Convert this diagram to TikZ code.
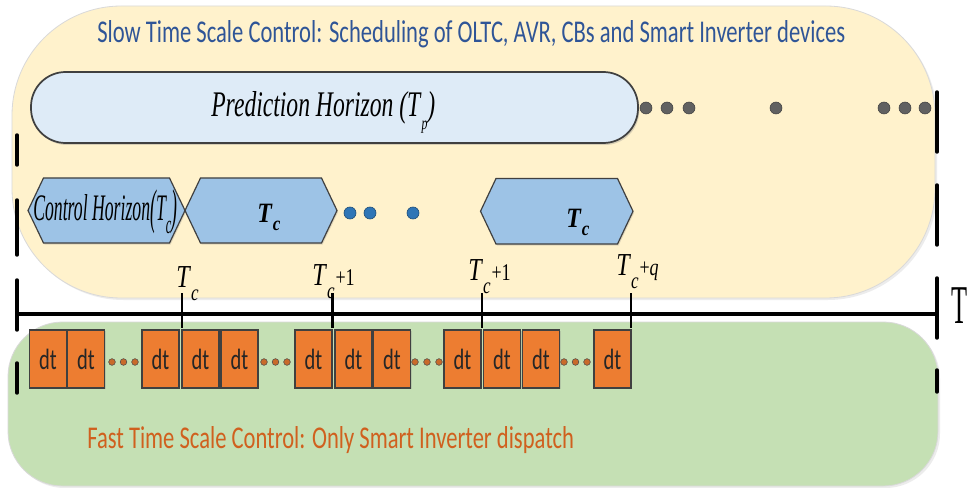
\documentclass[tikz,border=0pt]{standalone}
\usepackage{fontspec}
\setmainfont{Liberation Serif}
\newfontfamily\carl{Carlito}
\usetikzlibrary{shadows}
\definecolor{slowfill}{HTML}{FFF2CC}
\definecolor{fastfill}{HTML}{C5E0B4}
\definecolor{predfill}{HTML}{DEEBF7}
\definecolor{hexfill}{HTML}{9DC3E6}
\definecolor{titleblue}{HTML}{2F5597}
\definecolor{fastorange}{HTML}{D0601E}
\definecolor{dtorange}{HTML}{ED7D31}
\definecolor{edgegray}{HTML}{404040}
\definecolor{dotblue}{HTML}{2E75B6}
\definecolor{dotblueedge}{HTML}{1F4E79}
\newcommand\hexa[5]{%
  \draw[hexbox] (#2,{(#4+#5)/2}) -- ({#2+15.5},#4) -- ({#3-15.5},#4) -- (#3,{(#4+#5)/2}) -- ({#3-15.5},#5) -- ({#2+15.5},#5) -- cycle;
  \coordinate (#1) at ({(#2+#3)/2},{(#4+#5)/2});}
\newcommand\hexT{\scalebox{0.85}[1]{\fontsize{21}{21}\selectfont\bfseries\itshape T\kern0.04em\raisebox{-0.3em}{\fontsize{15}{15}\selectfont c}}}
\newcommand\tickT[1]{\scalebox{0.75}[1]{\fontsize{24}{24}\selectfont\itshape T\kern0.06em\raisebox{-0.42em}{\fontsize{17}{17}\selectfont c}\kern0.04em\fontsize{18}{18}\selectfont\upshape #1}}
\newcommand\dttext{\scalebox{0.7}[1]{\carl\fontsize{22}{22}\selectfont dt}}
\tikzset{
  bigbox/.style={draw=black!15, line width=0.6pt, inner sep=0pt, drop shadow={opacity=0.15, shadow xshift=1.5pt, shadow yshift=-1.5pt}},
  predbox/.style={draw=edgegray, line width=1.3pt, fill=predfill, rounded corners=26pt, inner sep=0pt, drop shadow={opacity=0.3, shadow xshift=1pt, shadow yshift=-1.5pt}},
  hexbox/.style={draw=edgegray, line width=0.9pt, fill=hexfill, drop shadow={opacity=0.25, shadow xshift=0.8pt, shadow yshift=-1.2pt}},
  dtbox/.style={draw=black!75, line width=0.8pt, fill=dtorange, inner sep=0pt, minimum width=27.75pt, minimum height=43.5pt, text=black!85, drop shadow={opacity=0.25, shadow xshift=0.8pt, shadow yshift=-1pt}},
  gdot/.style={circle, fill=black!62, draw=black!75, line width=0.4pt, inner sep=0pt, minimum size=9pt},
  bdot/.style={circle, fill=dotblue, draw=dotblueedge, line width=0.5pt, inner sep=0pt, minimum size=9pt},
  odot/.style={circle, fill=dtorange!85!black, draw=black!70, line width=0.4pt, inner sep=0pt, minimum size=5pt},
  txt/.style={inner sep=0pt, anchor=base west},
  timeline/.style={line width=3.3pt},
  tickline/.style={line width=2.2pt},
  vdash/.style={line width=2.6pt, line cap=round},
}
\begin{document}
\begin{tikzpicture}[x=0.75pt,y=-0.75pt]
\useasboundingbox (0,0) rectangle (969,488);
\fill[white] (0,0) rectangle (969,488);
% background regions
\node[bigbox, fill=slowfill, rounded corners=82pt, minimum width=923*0.75pt, minimum height=292*0.75pt] (slow) at (473.5,152) {};
\node[bigbox, fill=fastfill, rounded corners=41pt, minimum width=930*0.75pt, minimum height=164*0.75pt] (fast) at (473,404) {};
% titles
\node[txt, text=titleblue] (title) at (97,43) {\resizebox{561pt}{16.5pt}{\carl Slow Time Scale Control: Scheduling of OLTC, AVR, CBs and Smart Inverter devices}};
\node[txt, text=fastorange] (fasttitle) at (87,448) {\resizebox{365pt}{16.5pt}{\carl Fast Time Scale Control: Only Smart Inverter dispatch}};
% prediction horizon
\node[predbox, minimum width=607*0.75pt, minimum height=71*0.75pt] (pred) at (334.5,107.5) {};
\node[txt] (predtext) at (211,117) {\resizebox{168pt}{18.75pt}{\itshape Prediction Horizon (T\kern0.05em\raisebox{-0.35em}{\tiny p})}};
\foreach \x [count=\i] in {646,667,689,776,884,905,925} \node[gdot] (gd\i) at (\x,108) {};
% control horizon hexagons
\hexa{h1}{28}{185}{178}{243}
\hexa{h2}{185}{337}{178}{243}
\hexa{h3}{480.5}{633}{178.5}{244}
\node[txt] (h1text) at (33,220) {\resizebox{108pt}{22.5pt}{\itshape Control Horizon\raisebox{-0.1em}{\scalebox{1}[1.3]{(}}T\raisebox{-0.35em}{\scriptsize c}\raisebox{-0.1em}{\scalebox{1}[1.3]{)}}}};
\node[txt] (h2text) at (257,222) {\hexT};
\node[txt] (h3text) at (566,227) {\hexT};
\foreach \x [count=\i] in {350,370,413} \node[bdot] (bd\i) at (\x,213) {};
% time axis
\coordinate (tl0) at (17,314);
\coordinate (tl1) at (937,314);
\draw[timeline] (tl0) -- (tl1);
\draw[vdash] (17,135) -- (17,165) (17,200) -- (17,255) (17,280) -- (17,330) (17,363) -- (17,393);
\draw[vdash] (937,92) -- (937,152) (937,185) -- (937,245) (937,278) -- (937,338) (937,370) -- (937,392);
\foreach \x [count=\i] in {182,332.5,482,631} {
  \coordinate (tk\i a) at (\x,293);
  \coordinate (tk\i b) at (\x,328);
  \draw[tickline] (tk\i a) -- (tk\i b);
}
\node[txt] (lab1) at (176,287) {\tickT{}};
\node[txt] (lab2) at (312,285) {\tickT{+1}};
\node[txt] (lab3) at (468,280) {\tickT{+1}};
\node[txt] (lab4) at (616,275) {\tickT{+\textit{q}}};
\node[txt] (Tlabel) at (951.5,323) {\scalebox{0.48}[1]{\fontsize{41}{41}\selectfont T}};
% fast time steps
\foreach \x [count=\i] in {48,86,160.5,200.5,239.5,313.5,353.5,392,462.5,502,541,612.5}
  \node[dtbox] (dt\i) at (\x,359) {\dttext};
\foreach \x [count=\i] in {112,123.5,135,264,275.5,287,415,427,439,564,575.5,587}
  \node[odot] (od\i) at (\x,362) {};
\end{tikzpicture}
\end{document}
